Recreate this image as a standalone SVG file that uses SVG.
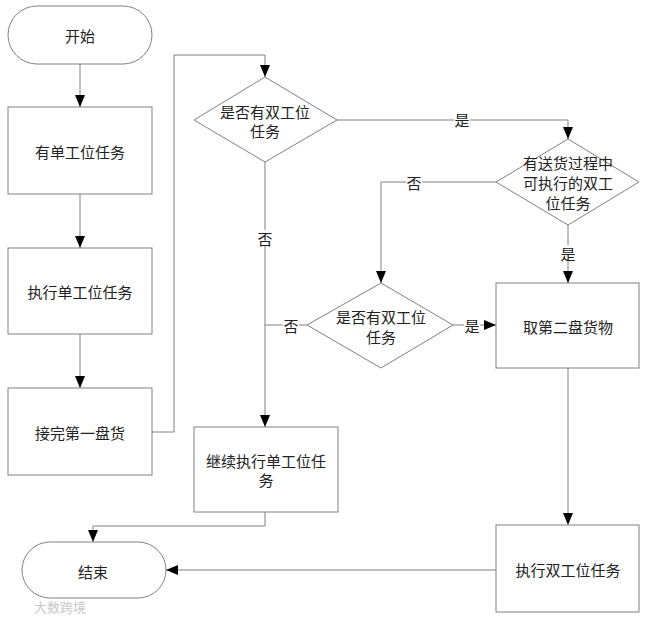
<svg xmlns="http://www.w3.org/2000/svg" width="649" height="619" viewBox="0 0 649 619">
<defs>
<style>
.s{fill:#fff;stroke:#808080;stroke-width:1}
.c{fill:none;stroke:#808080;stroke-width:1}
.t{font-family:"Noto Sans CJK SC","Noto Sans",sans-serif;font-size:15px;fill:#222;text-anchor:middle;dominant-baseline:central}
.lb{font-family:"Noto Sans CJK SC","Noto Sans",sans-serif;font-size:15px;fill:#222;text-anchor:middle;dominant-baseline:central}
</style>
<marker id="a" viewBox="0 0 12 10" markerWidth="12" markerHeight="10" refX="12" refY="5" orient="auto" markerUnits="userSpaceOnUse">
<path d="M0,0 L12,5 L0,10 z" fill="#000"/>
</marker>
</defs>
<rect width="649" height="619" fill="#fff"/>
<g id="connectors">
<line class="c" x1="80" y1="64" x2="80" y2="107" marker-end="url(#a)"/>
<line class="c" x1="80" y1="194" x2="80" y2="248" marker-end="url(#a)"/>
<line class="c" x1="80" y1="334" x2="80" y2="388" marker-end="url(#a)"/>
<polyline class="c" points="152,432 174,432 174,55 265,55 265,77" marker-end="url(#a)"/>
<line class="c" x1="265" y1="162" x2="265" y2="427" marker-end="url(#a)"/>
<polyline class="c" points="337,120 568,120 568,139" marker-end="url(#a)"/>
<polyline class="c" points="496,182 381,182 381,283" marker-end="url(#a)"/>
<line class="c" x1="568" y1="225" x2="568" y2="283" marker-end="url(#a)"/>
<line class="c" x1="453" y1="325" x2="496" y2="325" marker-end="url(#a)"/>
<line class="c" x1="307" y1="325" x2="265" y2="325"/>
<line class="c" x1="568" y1="368" x2="568" y2="525" marker-end="url(#a)"/>
<line class="c" x1="496" y1="570" x2="166" y2="570" marker-end="url(#a)"/>
<polyline class="c" points="265,512 265,526 93,526 93,542" marker-end="url(#a)"/>
<rect x="454" y="112" width="16" height="16" fill="#fff"/>
<text class="lb" x="462" y="119">是</text>
<rect x="257" y="230" width="16" height="16" fill="#fff"/>
<text class="lb" x="265" y="238">否</text>
<rect x="406" y="174" width="16" height="16" fill="#fff"/>
<text class="lb" x="414" y="182">否</text>
<rect x="560" y="245" width="16" height="16" fill="#fff"/>
<text class="lb" x="568" y="253">是</text>
<rect x="464" y="317" width="16" height="16" fill="#fff"/>
<text class="lb" x="472" y="325">是</text>
<rect x="283" y="317" width="16" height="16" fill="#fff"/>
<text class="lb" x="291" y="325">否</text>
</g>
<g id="start">
<rect class="s" x="8" y="6" width="144" height="58" rx="29" ry="29"/>
<text class="t" x="80" y="35">开始</text>
</g>
<g id="single-task">
<rect class="s" x="8" y="107" width="144" height="87"/>
<text class="t" x="80" y="151">有单工位任务</text>
</g>
<g id="exec-single">
<rect class="s" x="8" y="248" width="144" height="86"/>
<text class="t" x="80" y="291">执行单工位任务</text>
</g>
<g id="pick-first">
<rect class="s" x="8" y="388" width="144" height="87"/>
<text class="t" x="80" y="432">接完第一盘货</text>
</g>
<g id="decision1">
<polygon class="s" points="265,77 337,120 265,162 194,120"/>
<text class="t" x="265" y="111">是否有双工位</text>
<text class="t" x="265" y="130">任务</text>
</g>
<g id="decision2">
<polygon class="s" points="568,139 639,182 568,225 496,182"/>
<text class="t" x="568" y="162">有送货过程中</text>
<text class="t" x="568" y="182">可执行的双工</text>
<text class="t" x="568" y="202">位任务</text>
</g>
<g id="decision3">
<polygon class="s" points="381,283 453,325 381,368 307,325"/>
<text class="t" x="381" y="316">是否有双工位</text>
<text class="t" x="381" y="336">任务</text>
</g>
<g id="pick-second">
<rect class="s" x="496" y="283" width="143" height="85"/>
<text class="t" x="568" y="326">取第二盘货物</text>
</g>
<g id="continue-single">
<rect class="s" x="194" y="427" width="144" height="85"/>
<text class="t" x="266" y="460">继续执行单工位任</text>
<text class="t" x="266" y="479">务</text>
</g>
<g id="exec-double">
<rect class="s" x="496" y="525" width="143" height="87"/>
<text class="t" x="568" y="569">执行双工位任务</text>
</g>
<g id="end">
<rect class="s" x="22" y="542" width="144" height="56" rx="28" ry="28"/>
<text class="t" x="93" y="571">结束</text>
</g>
<text x="34" y="606" font-family="'Noto Sans CJK SC',sans-serif" font-size="13" fill="#c8c8c8" dominant-baseline="central">大数跨境</text>
</svg>
